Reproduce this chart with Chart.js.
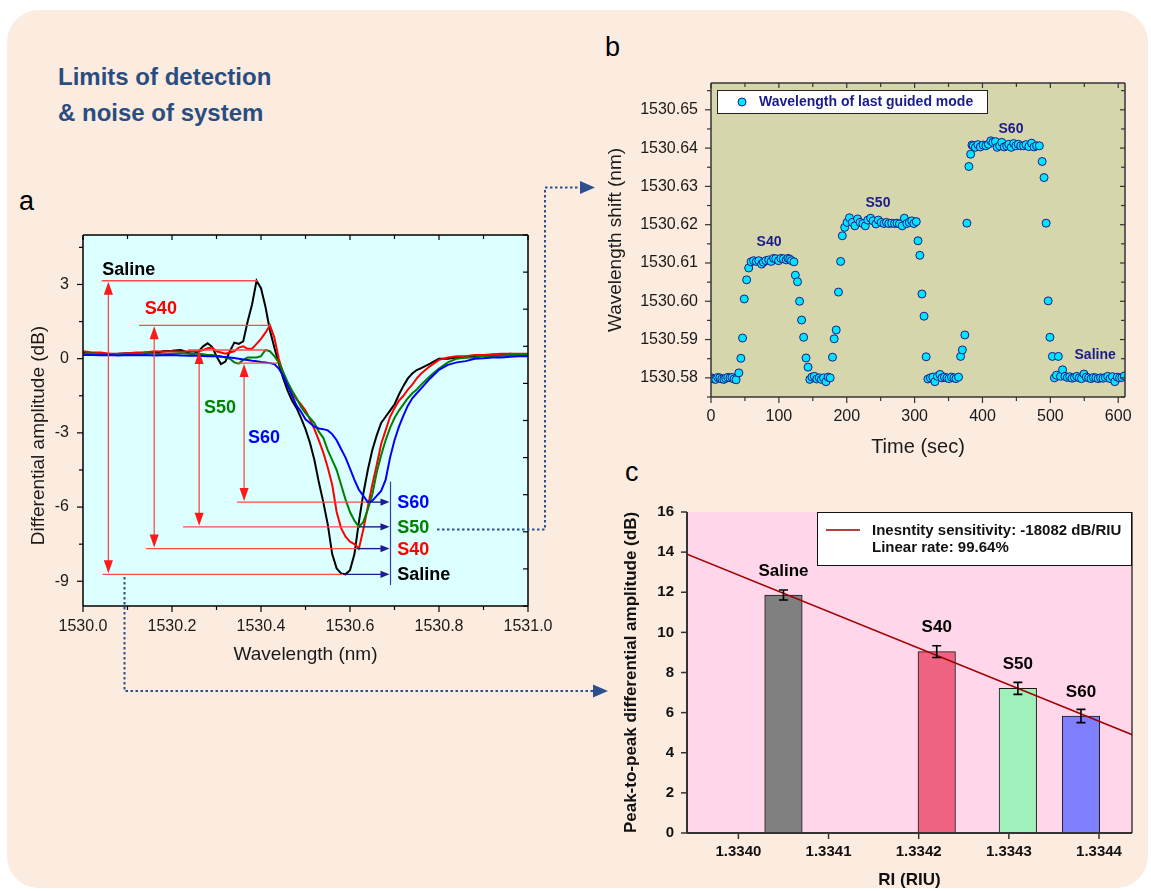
<!DOCTYPE html>
<html>
<head>
<meta charset="utf-8">
<script src="https://cdn.jsdelivr.net/npm/chart.js@4.4.1/dist/chart.umd.min.js"></script>
<style>
  body { margin: 0; background: #fff; font-family: "Liberation Sans", Arial, sans-serif; }
  #page { position: relative; width: 1151px; height: 891px; overflow: hidden; }
  #card { position: absolute; left: 7px; top: 10px; width: 1141px; height: 878px; background: #fcebdf; border-radius: 32px; }
  .heading { position: absolute; left: 58px; color: #2a4d80; font-weight: bold; font-size: 24px; line-height: 1; white-space: nowrap; }
  .panel { position: absolute; font-size: 27px; line-height: 1; color: #000; }
  canvas { position: absolute; }
  svg { position: absolute; left: 0; top: 0; pointer-events: none; }
</style>
</head>
<body>
<div id="page">
  <div id="card"></div>
  <div class="heading" style="top:64.5px">Limits of detection</div>
  <div class="heading" style="top:101px">&amp; noise of system</div>
  <div class="panel" style="left:19px;top:188px">a</div>
  <div class="panel" style="left:605px;top:34px">b</div>
  <div class="panel" style="left:625px;top:459px">c</div>

  <canvas id="chartA" width="560" height="460" style="left:0;top:220px"></canvas>
  <canvas id="chartB" width="551" height="420" style="left:600px;top:60px"></canvas>
  <canvas id="chartC" width="551" height="411" style="left:600px;top:480px"></canvas>

  <svg width="1151" height="891">
    <polyline points="437,529.5 545,529.5 545,187.5 582,187.5" fill="none" stroke="#2b4f8f" stroke-width="2" stroke-dasharray="2.5,2.5"/>
    <polygon points="580,181 595,187.5 580,194" fill="#2b4f8f"/>
    <polyline points="124.5,577 124.5,691 594,691" fill="none" stroke="#2b4f8f" stroke-width="2" stroke-dasharray="2.5,2.5"/>
    <polygon points="593,684.5 608,691 593,697.5" fill="#2b4f8f"/>
  </svg>
</div>

<script>
// ---- panel a: differential amplitude vs wavelength ----
const wavelength = [
  1530.00, 1530.02, 1530.04, 1530.06, 1530.08, 1530.10, 1530.12, 1530.14, 1530.16, 1530.18, 1530.20, 1530.22, 1530.24,
  1530.25, 1530.26, 1530.27, 1530.28, 1530.29, 1530.30, 1530.31, 1530.32, 1530.33, 1530.34,
  1530.35, 1530.36, 1530.37, 1530.38, 1530.39, 1530.40, 1530.41, 1530.42, 1530.43, 1530.44,
  1530.45, 1530.46, 1530.47, 1530.48, 1530.49, 1530.50, 1530.51, 1530.52, 1530.53, 1530.54,
  1530.55, 1530.56, 1530.57, 1530.58, 1530.59, 1530.60, 1530.61, 1530.62, 1530.63, 1530.64,
  1530.65, 1530.66, 1530.67, 1530.68, 1530.69, 1530.70, 1530.71, 1530.72, 1530.73, 1530.74,
  1530.75, 1530.76,
  1530.78, 1530.80, 1530.82, 1530.84, 1530.86, 1530.88, 1530.90, 1530.92, 1530.94, 1530.96, 1530.98, 1531.00
];
const ampSaline = [
  0.25, 0.22, 0.2, 0.15, 0.2, 0.22, 0.2, 0.25, 0.22, 0.3, 0.32, 0.35, 0.22,
  0.2, 0.3, 0.5, 0.62, 0.48, 0.1, -0.22, -0.12, 0.3, 0.65,
  0.6, 0.7, 1.5, 2.2, 3.15, 2.85, 2.1, 1.15, 0.45, -0.2,
  -0.8, -1.3, -1.7, -2.0, -2.4, -2.85, -3.4, -4.1, -5.0, -5.8,
  -6.7, -7.9, -8.48, -8.68, -8.72, -8.55, -7.9, -6.6, -5.45, -4.5,
  -3.7, -3.1, -2.6, -2.35, -2.1, -1.85, -1.45, -1.1, -0.8, -0.6,
  -0.46, -0.38,
  -0.2, 0.0, 0.0, 0.05, 0.05, 0.1, 0.15, 0.1, 0.15, 0.2, 0.15, 0.15
];
const ampS40 = [
  0.3, 0.25, 0.25, 0.2, 0.2, 0.22, 0.25, 0.25, 0.3, 0.28, 0.3, 0.28, 0.3,
  0.3, 0.3, 0.35, 0.42, 0.45, 0.3, 0.25, 0.2, 0.25, 0.3,
  0.45, 0.5, 0.4, 0.4, 0.6, 0.8, 1.05, 1.35, 0.85, 0.0,
  -0.6, -1.05, -1.4, -1.65, -1.85, -2.1, -2.45, -2.85, -3.3, -3.8,
  -4.4, -5.1, -6.2, -6.85, -7.2, -7.4, -7.5, -7.68, -6.9, -6.0,
  -5.1, -4.3, -3.45, -2.9, -2.35, -2.0, -1.7, -1.5, -1.25, -1.05,
  -0.8, -0.6,
  -0.3, -0.05, 0.05, 0.1, 0.1, 0.15, 0.15, 0.18, 0.2, 0.2, 0.2, 0.2
];
const ampS50 = [
  0.2, 0.22, 0.18, 0.2, 0.15, 0.2, 0.18, 0.22, 0.2, 0.18, 0.2, 0.22, 0.2,
  0.2, 0.2, 0.18, 0.15, 0.15, 0.12, 0.1, 0.05, 0.0, -0.15,
  -0.2, -0.05, 0.05, 0.05, 0.05, 0.1, 0.35, 0.3, 0.1, -0.15,
  -0.55, -0.95, -1.3, -1.6, -1.95, -2.2, -2.4, -2.6, -2.95, -3.2,
  -3.7, -4.1, -4.5, -5.1, -5.7, -6.2, -6.55, -6.8, -6.6, -6.1,
  -5.5, -4.6, -3.9, -3.3, -2.8, -2.4, -2.1, -1.85, -1.6, -1.4,
  -1.25, -1.05,
  -0.7, -0.4, -0.15, 0.0, 0.05, 0.05, 0.1, 0.1, 0.12, 0.15, 0.15, 0.18
];
const ampS60 = [
  0.15, 0.15, 0.14, 0.15, 0.13, 0.15, 0.14, 0.15, 0.13, 0.14, 0.15, 0.13, 0.12,
  0.12, 0.12, 0.11, 0.1, 0.1, 0.1, 0.08, 0.07, 0.05, 0.03,
  0.0, -0.03, -0.05, -0.08, -0.1, -0.13, -0.15, -0.18, -0.22, -0.4,
  -0.7, -1.1, -1.5, -1.9, -2.15, -2.45, -2.6, -2.75, -2.82, -2.85,
  -2.9, -3.05, -3.3, -3.65, -4.0, -4.45, -4.9, -5.3, -5.55, -5.8,
  -5.75, -5.55, -5.35, -4.9, -4.0, -3.3, -2.75, -2.3, -1.9, -1.6,
  -1.4, -1.2,
  -0.8, -0.45, -0.25, -0.15, -0.1, 0.0, 0.02, 0.05, 0.05, 0.08, 0.1, 0.1
];
const sampleNames = ['Saline', 'S40', 'S50', 'S60'];
const ppTop = [3.15, 1.35, 0.35, -0.18];
const ppBottom = [-8.72, -7.68, -6.8, -5.8];

// ---- panel b: wavelength of last guided mode vs time ----
const timeSec = [
  1, 4, 7, 10, 13, 16, 19, 22, 25, 28, 31, 34, 37, 41,
  44, 46.5, 49, 52.5, 55.5,
  59, 62.7, 66.8, 70.4, 74.6, 77.2, 80.8, 85, 88.6, 92.2, 95.3, 99.5, 103, 106.7, 110.9, 113.4, 116, 118.6, 122.2,
  124.3, 127.5, 130.5, 133.5, 136.5, 140, 143,
  145.6, 148.7, 152.3, 155.9, 159.5, 162.6, 165.8, 169.4, 172.5, 175.6,
  179, 181.5, 184.5, 187.8, 191, 193.5, 197, 200.5,
  204, 208.2, 212, 216, 219.6, 223.8, 227.4, 231, 235.2, 238.8, 243, 246.6, 250.7, 254.9, 258.5, 262, 266.2, 270.4, 274, 277.6, 281.8, 284.9, 288.5, 292.2, 295.8, 298.9, 302.5,
  305, 307.7, 310.8, 313.9, 317,
  319.6, 323.2, 326.9, 330, 333.6, 337.3, 340.3, 344, 347.6, 350.7, 354.3, 357.9, 361, 364.7,
  367.8, 370.4, 374, 377, 380, 382.6, 384.5,
  386.4, 389.5, 393.2, 396.8, 400.9, 405.1, 408.7, 412.3, 415.4, 419.1, 421.7, 425.3, 428.4, 432, 435.6, 438.7, 442.4, 446, 449.1, 452.7, 456.4, 460.5, 464.1, 468.3, 472.4, 476, 479.7, 483.8,
  487.9, 490.7, 493.8, 496.8, 499.4, 503, 506, 509, 511.8, 515, 518,
  521.5, 525, 528.5, 532, 535.5, 539, 542.5, 546, 549.5, 553, 556.5, 560, 563.5, 567, 570.5, 574, 577.5, 581, 584.5, 588, 591.5, 595, 598.5, 602, 605.5, 609
];
const lastModeWl = [
  1530.5800, 1530.5797, 1530.5796, 1530.5801, 1530.5800, 1530.5797, 1530.5796, 1530.5799, 1530.5801, 1530.5800, 1530.5801, 1530.5797, 1530.5795, 1530.5813,
  1530.5851, 1530.5904, 1530.6006, 1530.6056, 1530.6087,
  1530.6103, 1530.6106, 1530.6104, 1530.6106, 1530.6097, 1530.6102, 1530.6106, 1530.6108, 1530.6104, 1530.6112, 1530.6111, 1530.6106, 1530.6112, 1530.6111, 1530.6108, 1530.6112, 1530.6110, 1530.6106, 1530.6103,
  1530.6068, 1530.6051, 1530.6000, 1530.5951, 1530.5906, 1530.5852, 1530.5828,
  1530.5796, 1530.5802, 1530.5804, 1530.5797, 1530.5800, 1530.5796, 1530.5800, 1530.5790, 1530.5802, 1530.5800,
  1530.5854, 1530.5902, 1530.5925, 1530.6024, 1530.6104, 1530.6171, 1530.6193, 1530.6206,
  1530.6218, 1530.6206, 1530.6197, 1530.6215, 1530.6206, 1530.6203, 1530.6197, 1530.6212, 1530.6217, 1530.6210, 1530.6202, 1530.6212, 1530.6206, 1530.6203, 1530.6206, 1530.6203, 1530.6204, 1530.6203, 1530.6204, 1530.6202, 1530.6197, 1530.6217, 1530.6203, 1530.6206, 1530.6210, 1530.6203, 1530.6208,
  1530.6158, 1530.6120, 1530.6019, 1530.5961, 1530.5855,
  1530.5797, 1530.5800, 1530.5802, 1530.5790, 1530.5804, 1530.5809, 1530.5800, 1530.5802, 1530.5800, 1530.5798, 1530.5802, 1530.5800, 1530.5798, 1530.5802,
  1530.5856, 1530.5873, 1530.5912, 1530.6204, 1530.6352, 1530.6384, 1530.6408,
  1530.6406, 1530.6402, 1530.6409, 1530.6403, 1530.6408, 1530.6406, 1530.6410, 1530.6419, 1530.6415, 1530.6417, 1530.6402, 1530.6406, 1530.6415, 1530.6403, 1530.6406, 1530.6410, 1530.6402, 1530.6412, 1530.6406, 1530.6410, 1530.6406, 1530.6406, 1530.6409, 1530.6404, 1530.6413, 1530.6403, 1530.6406, 1530.6406,
  1530.6365, 1530.6323, 1530.6204, 1530.6001, 1530.5906, 1530.5856, 1530.5800, 1530.5807, 1530.5856, 1530.5804, 1530.5821,
  1530.5804, 1530.5801, 1530.5803, 1530.5799, 1530.5801, 1530.5804, 1530.5800, 1530.5798, 1530.5810, 1530.5802, 1530.5800, 1530.5798, 1530.5801, 1530.5800, 1530.5798, 1530.5800, 1530.5799, 1530.5801, 1530.5804, 1530.5798, 1530.5803, 1530.5790, 1530.5802, 1530.5800, 1530.5801, 1530.5805
];
const stageLabels = ['S40', 'S50', 'S60', 'Saline'];
const stageLabelTime = [85.5, 246, 442, 566];
const stageLabelWl = [1530.6154, 1530.6255, 1530.645, 1530.586];

// ---- panel c: peak-to-peak amplitude vs refractive index ----
const riValues = [1.33405, 1.33422, 1.33431, 1.33438];
const ppAmplitude = [11.86, 9.04, 7.21, 5.83];
const ppError = [0.25, 0.29, 0.30, 0.33];
const fitRi = [1.333943, 1.334437];
const fitAmp = [13.9, 4.9];

const FONT = '"Liberation Sans", Arial, sans-serif';
Chart.defaults.font.family = FONT;
Chart.defaults.color = '#1a1a1a';

const xy = (xs, ys) => xs.map((v, i) => ({ x: v, y: ys[i] }));

function tickValues(min, max, step, start) {
  const first = start !== undefined ? start : Math.ceil(min / step - 1e-6) * step;
  const out = [];
  for (let k = 0; ; k++) {
    const v = first + k * step;
    if (v > max + step * 1e-6) break;
    out.push(v);
  }
  return out;
}
// labelled ticks every `step`, whatever chart.js would pick
const fixedTicks = step => s => { s.ticks = tickValues(s.min, s.max, step).map(v => ({ value: v })); };
// force the axis box size and drop the label overhang padding
const boxSize = (w, h) => s => {
  if (w !== undefined) s.width = w;
  if (h !== undefined) s.height = h;
  s.paddingTop = s.paddingBottom = s.paddingLeft = s.paddingRight = 0;
};

// background, frame lines, minor/mirror ticks
const framePlugin = {
  id: 'frame',
  beforeDatasetsDraw(chart, args, o) {
    const a = chart.chartArea, ctx = chart.ctx;
    ctx.save();
    ctx.fillStyle = o.bg;
    ctx.fillRect(a.left, a.top, a.right - a.left, a.bottom - a.top);
    ctx.restore();
  },
  afterDatasetsDraw(chart, args, o) {
    const a = chart.chartArea, ctx = chart.ctx;
    ctx.save();
    (o.sides || []).forEach(s => {
      ctx.strokeStyle = s.color || '#000';
      ctx.lineWidth = s.width || 1.5;
      ctx.beginPath();
      if (s.side === 'left') { ctx.moveTo(a.left, a.top); ctx.lineTo(a.left, a.bottom); }
      if (s.side === 'right') { ctx.moveTo(a.right, a.top); ctx.lineTo(a.right, a.bottom); }
      if (s.side === 'top') { ctx.moveTo(a.left, a.top); ctx.lineTo(a.right, a.top); }
      if (s.side === 'bottom') { ctx.moveTo(a.left, a.bottom); ctx.lineTo(a.right, a.bottom); }
      ctx.stroke();
    });
    (o.ticks || []).forEach(t => {
      const horiz = t.side === 'top' || t.side === 'bottom';
      const sc = horiz ? chart.scales.x : chart.scales.y;
      const dir = t.inward ? 1 : -1;
      ctx.strokeStyle = t.color || '#000';
      ctx.lineWidth = t.width || 1.2;
      tickValues(sc.min, sc.max, t.step, t.start).forEach(v => {
        const major = t.major ? Math.abs(v / t.major - Math.round(v / t.major)) < 1e-4 : true;
        const len = major ? t.len : t.minorLen;
        const p = sc.getPixelForValue(v);
        ctx.beginPath();
        if (t.side === 'bottom') { ctx.moveTo(p, a.bottom); ctx.lineTo(p, a.bottom - dir * len); }
        if (t.side === 'top') { ctx.moveTo(p, a.top); ctx.lineTo(p, a.top + dir * len); }
        if (t.side === 'left') { ctx.moveTo(a.left, p); ctx.lineTo(a.left + dir * len, p); }
        if (t.side === 'right') { ctx.moveTo(a.right, p); ctx.lineTo(a.right - dir * len, p); }
        ctx.stroke();
      });
    });
    if (o.yTitle) {
      ctx.translate(o.yTitle.x, (a.top + a.bottom) / 2 + o.yTitle.shift);
      ctx.rotate(-Math.PI / 2);
      ctx.font = o.yTitle.font;
      ctx.fillStyle = '#1a1a1a';
      ctx.textAlign = 'center';
      ctx.textBaseline = 'middle';
      ctx.fillText(o.yTitle.text, 0, 0);
    }
    ctx.restore();
  }
};

function noGrid() { return { display: false, drawTicks: false }; }

// ---------- panel a ----------
const sampleColors = ['#000000', '#ff0000', '#008000', '#0000ff'];
// where the peak-to-peak markers sit (axis units)
const markLayout = [
  { arrowAt: 1530.057, topFrom: 1530.042, topTo: 1530.393, botFrom: 1530.044, dipAt: 1530.585, label: [1530.103, 3.58] },
  { arrowAt: 1530.160, topFrom: 1530.126, topTo: 1530.420, botFrom: 1530.142, dipAt: 1530.615, label: [1530.175, 2.0] },
  { arrowAt: 1530.261, topFrom: 1530.236, topTo: 1530.416, botFrom: 1530.225, dipAt: 1530.620, label: [1530.308, -2.0] },
  { arrowAt: 1530.362, topFrom: 1530.346, topTo: 1530.438, botFrom: 1530.346, dipAt: 1530.637, label: [1530.407, -3.21] }
];
const rightBar = { at: 1530.691, from: -4.97, to: -9.15, textAt: 1530.706 };

function tri(ctx, x, y, dx, dy, half) {
  // arrow head with tip at (x,y), pointing along (dx,dy)
  ctx.beginPath();
  ctx.moveTo(x, y);
  ctx.lineTo(x - dx + dy * half, y - dy - dx * half);
  ctx.lineTo(x - dx - dy * half, y - dy + dx * half);
  ctx.closePath();
  ctx.fill();
}

const markerPlugin = {
  id: 'p2p',
  afterDatasetsDraw(chart) {
    const { ctx, scales: { x, y } } = chart;
    const seg = (x1, y1, x2, y2) => { ctx.beginPath(); ctx.moveTo(x1, y1); ctx.lineTo(x2, y2); ctx.stroke(); };
    ctx.save();
    const xb = x.getPixelForValue(rightBar.at);
    markLayout.forEach((m, i) => {
      const yt = y.getPixelForValue(ppTop[i]);
      const yb = y.getPixelForValue(ppBottom[i]);
      const xa = x.getPixelForValue(m.arrowAt);
      const xd = x.getPixelForValue(m.dipAt);
      ctx.strokeStyle = '#ff4a4a';
      ctx.lineWidth = 1.3;
      seg(x.getPixelForValue(m.topFrom), yt, x.getPixelForValue(m.topTo), yt);
      seg(x.getPixelForValue(m.botFrom), yb, xd, yb);
      seg(xa, yt + 6, xa, yb - 6);
      ctx.fillStyle = '#ff1a1a';
      tri(ctx, xa, yt + 1, 0, -13, 0.35);
      tri(ctx, xa, yb - 1, 0, 13, 0.35);
      // navy pointer to the right-hand bracket
      ctx.strokeStyle = '#1c1c8e';
      ctx.fillStyle = '#1c1c8e';
      ctx.lineWidth = 1.4;
      seg(xd, yb, xb - 6, yb);
      tri(ctx, xb - 1, yb, 9, 0, 0.4);
      ctx.font = 'bold 18px ' + FONT;
      ctx.textBaseline = 'middle';
      ctx.fillStyle = sampleColors[i];
      ctx.textAlign = 'center';
      ctx.fillText(sampleNames[i], x.getPixelForValue(m.label[0]), y.getPixelForValue(m.label[1]));
      ctx.textAlign = 'left';
      ctx.fillText(sampleNames[i], x.getPixelForValue(rightBar.textAt), yb + 1);
    });
    ctx.strokeStyle = '#3a3aa8';
    ctx.lineWidth = 1.2;
    seg(xb, y.getPixelForValue(rightBar.from), xb, y.getPixelForValue(rightBar.to));
    ctx.restore();
  }
};

new Chart(document.getElementById('chartA'), {
  type: 'line',
  data: {
    datasets: [
      { label: 'S60', data: xy(wavelength, ampS60), borderColor: '#0000ff' },
      { label: 'S50', data: xy(wavelength, ampS50), borderColor: '#008000' },
      { label: 'S40', data: xy(wavelength, ampS40), borderColor: '#ff0000' },
      { label: 'Saline', data: xy(wavelength, ampSaline), borderColor: '#000000' }
    ]
  },
  options: {
    responsive: false,
    animation: false,
    elements: { point: { radius: 0 }, line: { borderWidth: 2, tension: 0 } },
    layout: { padding: { top: 15, right: 32, left: 0, bottom: 0 } },
    scales: {
      x: {
        type: 'linear', min: 1530, max: 1531,
        afterBuildTicks: fixedTicks(0.2),
        afterFit: boxSize(undefined, 74),
        grid: noGrid(), border: { display: false },
        ticks: { autoSkip: false, maxRotation: 0, padding: 11, font: { size: 16 }, callback: v => Number(v).toFixed(1) },
        title: { display: true, text: 'Wavelength (nm)', font: { size: 19 }, padding: { top: 0, bottom: 13.6 } }
      },
      y: {
        min: -10, max: 5,
        afterBuildTicks: fixedTicks(3),
        afterFit: boxSize(83),
        grid: noGrid(), border: { display: false },
        ticks: { padding: 14, font: { size: 16 }, callback: v => Number(v).toFixed(0) }
      }
    },
    plugins: {
      legend: { display: false },
      tooltip: { enabled: false },
      frame: {
        bg: '#dcffff',
        sides: [{ side: 'left' }, { side: 'right' }, { side: 'top' }, { side: 'bottom' }],
        ticks: [
          { side: 'bottom', step: 0.1, major: 0.2, len: 6, minorLen: 4 },
          { side: 'top', step: 0.1, major: 0.2, len: 5, minorLen: 4, inward: true },
          { side: 'left', step: 1.5, major: 3, len: 6, minorLen: 4 },
          { side: 'right', step: 1.5, start: -10, len: 5, minorLen: 5, inward: true }
        ],
        yTitle: { text: 'Differential amplitude (dB)', x: 38.3, shift: 15, font: '19px ' + FONT }
      }
    }
  },
  plugins: [framePlugin, markerPlugin]
});

// ---------- panel b ----------
const navy = '#1b1b8a';
const stagePlugin = {
  id: 'stages',
  afterDatasetsDraw(chart) {
    const { ctx, scales: { x, y }, chartArea: a } = chart;
    ctx.save();
    ctx.font = 'bold 14px ' + FONT;
    ctx.fillStyle = navy;
    ctx.textAlign = 'center';
    ctx.textBaseline = 'middle';
    stageLabels.forEach((s, i) => {
      ctx.fillText(s, x.getPixelForValue(stageLabelTime[i]), y.getPixelForValue(stageLabelWl[i]));
    });
    // legend
    const lx = a.left + 6, ly = a.top + 7;
    ctx.fillStyle = '#fff';
    ctx.fillRect(lx, ly, 270, 23);
    ctx.strokeStyle = '#222';
    ctx.lineWidth = 1;
    ctx.strokeRect(lx + 0.5, ly + 0.5, 270, 23);
    ctx.beginPath();
    ctx.arc(lx + 25, ly + 12, 4, 0, Math.PI * 2);
    ctx.fillStyle = '#00e6ff';
    ctx.fill();
    ctx.strokeStyle = navy;
    ctx.stroke();
    ctx.fillStyle = navy;
    ctx.textAlign = 'left';
    ctx.fillText('Wavelength of last guided mode', lx + 42, ly + 12.5);
    ctx.restore();
  }
};

new Chart(document.getElementById('chartB'), {
  type: 'scatter',
  data: {
    datasets: [{
      label: 'Wavelength of last guided mode',
      data: xy(timeSec, lastModeWl),
      pointRadius: 4,
      pointBackgroundColor: '#00e6ff',
      pointBorderColor: navy,
      pointBorderWidth: 1
    }]
  },
  options: {
    responsive: false,
    animation: false,
    layout: { padding: { top: 23, right: 26, left: 0, bottom: 0 } },
    scales: {
      x: {
        type: 'linear', min: 0, max: 610,
        afterBuildTicks: fixedTicks(100),
        afterFit: boxSize(undefined, 83),
        grid: noGrid(), border: { display: false },
        ticks: { autoSkip: false, maxRotation: 0, padding: 10, font: { size: 16 } },
        title: { display: true, text: 'Time (sec)', font: { size: 20 }, padding: { top: 0, bottom: 21 } }
      },
      y: {
        min: 1530.575, max: 1530.657,
        afterBuildTicks: fixedTicks(0.01),
        afterFit: boxSize(111),
        grid: noGrid(), border: { display: false },
        ticks: { padding: 13, font: { size: 16 }, callback: v => Number(v).toFixed(2) },
        title: { display: true, text: 'Wavelength shift (nm)', font: { size: 19 }, padding: { top: 4.6, bottom: 0 } }
      }
    },
    plugins: {
      legend: { display: false },
      tooltip: { enabled: false },
      frame: {
        bg: '#d6d6ad',
        sides: [
          { side: 'left', color: '#333' }, { side: 'right', color: '#333' },
          { side: 'top', color: '#333' }, { side: 'bottom', color: '#333' }
        ],
        ticks: [
          { side: 'bottom', step: 50, major: 100, len: 6, minorLen: 4, color: '#333' },
          { side: 'top', step: 50, major: 100, len: 5, minorLen: 4, inward: true, color: '#333' },
          { side: 'left', step: 0.005, major: 0.01, start: 1530.575, len: 6, minorLen: 4, color: '#333' },
          { side: 'right', step: 0.005, major: 0.01, start: 1530.575, len: 5, minorLen: 4, inward: true, color: '#333' }
        ]
      }
    }
  },
  plugins: [framePlugin, stagePlugin]
});

// ---------- panel c ----------
const barNotes = {
  id: 'barNotes',
  afterDatasetsDraw(chart) {
    const { ctx, scales: { y }, chartArea: a } = chart;
    const bars = chart.getDatasetMeta(1).data;
    ctx.save();
    ctx.strokeStyle = '#000';
    ctx.fillStyle = '#000';
    ctx.lineWidth = 1.6;
    ctx.font = 'bold 17px ' + FONT;
    ctx.textAlign = 'center';
    ctx.textBaseline = 'middle';
    bars.forEach((b, i) => {
      const hi = y.getPixelForValue(ppAmplitude[i] + ppError[i]);
      const lo = y.getPixelForValue(ppAmplitude[i] - ppError[i]);
      ctx.beginPath();
      ctx.moveTo(b.x, hi); ctx.lineTo(b.x, lo);
      ctx.moveTo(b.x - 4.5, hi); ctx.lineTo(b.x + 4.5, hi);
      ctx.moveTo(b.x - 4.5, lo); ctx.lineTo(b.x + 4.5, lo);
      ctx.stroke();
      ctx.fillText(sampleNames[i], b.x, b.y - 24);
    });
    // legend box
    const lx = a.right - 315, ly = a.top;
    ctx.fillStyle = '#fff';
    ctx.fillRect(lx, ly, 315, 54);
    ctx.lineWidth = 1;
    ctx.strokeStyle = '#111';
    ctx.strokeRect(lx + 0.5, ly + 0.5, 314, 53);
    ctx.strokeStyle = '#9b0000';
    ctx.lineWidth = 1.6;
    ctx.beginPath();
    ctx.moveTo(lx + 9, ly + 18); ctx.lineTo(lx + 43, ly + 18);
    ctx.stroke();
    ctx.fillStyle = '#111';
    ctx.font = 'bold 15px ' + FONT;
    ctx.textAlign = 'left';
    ctx.fillText('Inesntity sensitivity: -18082 dB/RIU', lx + 55, ly + 18.5);
    ctx.fillText('Linear rate: 99.64%', lx + 55, ly + 36);
    ctx.restore();
  }
};

new Chart(document.getElementById('chartC'), {
  type: 'bar',
  data: {
    datasets: [
      {
        type: 'line', label: 'fit', data: xy(fitRi, fitAmp), order: 0,
        borderColor: '#a00000', borderWidth: 1.6, pointRadius: 0
      },
      {
        type: 'bar', label: 'Peak-to-peak', data: xy(riValues, ppAmplitude), order: 1,
        backgroundColor: ['#808080', '#f06282', '#a0f0bc', '#8080ff'],
        borderColor: '#1a1a1a', borderWidth: 1, borderSkipped: 'bottom',
        barThickness: 37.5
      }
    ]
  },
  options: {
    responsive: false,
    animation: false,
    layout: { padding: { top: 32, right: 19, left: 0, bottom: 0 } },
    scales: {
      x: {
        type: 'linear', offset: false, min: 1.333943, max: 1.3344366,
        afterBuildTicks: fixedTicks(0.0001),
        afterFit: boxSize(undefined, 58),
        grid: noGrid(), border: { display: false },
        ticks: { autoSkip: false, maxRotation: 0, padding: 10,
                 font: { size: 15, weight: 'bold' }, color: '#111', callback: v => Number(v).toFixed(4) },
        title: { display: true, text: 'RI (RIU)', color: '#111', font: { size: 17, weight: 'bold' }, padding: { top: 0, bottom: 0.8 } }
      },
      y: {
        min: 0, max: 16,
        afterBuildTicks: fixedTicks(2),
        afterFit: boxSize(87),
        grid: noGrid(), border: { display: false },
        ticks: { padding: 13, font: { size: 15, weight: 'bold' }, color: '#111' },
        title: { display: true, text: 'Peak-to-peak differential amplitude (dB)', color: '#111',
                 font: { size: 17, weight: 'bold' }, padding: { top: 21.5, bottom: 0 } }
      }
    },
    plugins: {
      legend: { display: false },
      tooltip: { enabled: false },
      frame: {
        bg: '#ffd6ea',
        sides: [
          { side: 'left', color: '#333', width: 2 }, { side: 'bottom', color: '#333', width: 2 },
          { side: 'right', color: '#111', width: 1.2 }
        ],
        ticks: [
          { side: 'left', step: 2, len: 6, color: '#333', width: 1.5 },
          { side: 'bottom', step: 0.0001, len: 6, color: '#333', width: 1.5 }
        ]
      }
    }
  },
  plugins: [framePlugin, barNotes]
});
</script>
</body>
</html>
